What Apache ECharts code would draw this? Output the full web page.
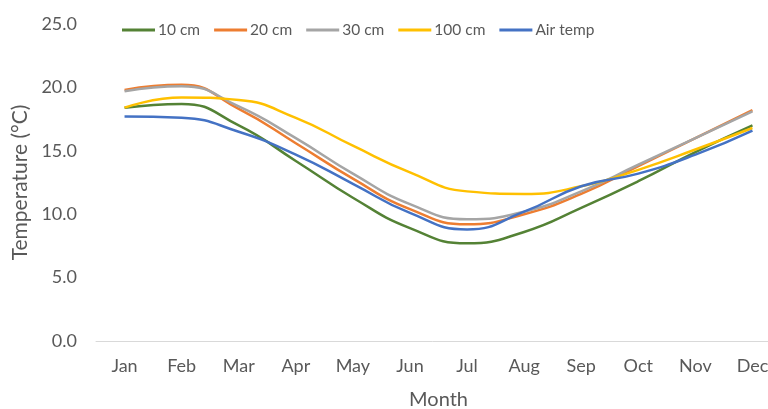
<!DOCTYPE html>
<html>
<head>
<meta charset="utf-8">
<script src="https://cdn.jsdelivr.net/npm/echarts@6/dist/echarts.min.js"></script>
<style>
  html, body { margin: 0; padding: 0; background: #fff; }
  #chart { width: 768px; height: 409px; }
</style>
</head>
<body>
<div id="chart"></div>
<script>
let months = ['Jan', 'Feb', 'Mar', 'Apr', 'May', 'Jun', 'Jul', 'Aug', 'Sep', 'Oct', 'Nov', 'Dec'];
let seriesNames = ['10 cm', '20 cm', '30 cm', '100 cm', 'Air temp'];
let depth10 = [18.4, 18.7, 17.0, 14.2, 11.3, 8.9, 7.7, 8.6, 10.5, 12.6, 14.9, 17.0];
let depth20 = [19.8, 20.2, 18.3, 15.6, 12.8, 10.4, 9.2, 10.0, 11.6, 13.8, 16.0, 18.2];
let depth30 = [19.7, 20.1, 18.5, 16.0, 13.2, 10.8, 9.6, 10.2, 11.8, 13.9, 16.0, 18.1];
let depth100 = [18.4, 19.2, 19.0, 17.6, 15.4, 13.3, 11.8, 11.6, 12.2, 13.5, 15.1, 16.8];
let airTemp = [17.7, 17.6, 16.5, 14.7, 12.4, 10.1, 8.8, 10.2, 12.2, 13.2, 14.7, 16.6];

let colors = ['#548235', '#ED7D31', '#A5A5A5', '#FFC000', '#4472C4'];
let values = [depth10, depth20, depth30, depth100, airTemp];
let font = 'Lato';

let chart = echarts.init(document.getElementById('chart'));
let option = {
    animation: false,
    color: colors,
    textStyle: { fontFamily: font },
    legend: {
        left: 117,
        top: 17,
        itemWidth: 33,
        itemHeight: 3,
        itemGap: 14,
        icon: 'rect',
        data: seriesNames,
        textStyle: { color: '#595959', fontSize: 15.5, fontFamily: font, padding: [0, 0, 0, -2] }
    },
    grid: { left: 96, top: 24, width: 685, height: 317, containLabel: false, outerBoundsMode: 'none' },
    xAxis: {
        type: 'category',
        data: months,
        boundaryGap: true,
        name: 'Month',
        nameLocation: 'middle',
        nameGap: 49,
        nameTextStyle: { color: '#595959', fontSize: 20, fontFamily: font },
        axisLine: { lineStyle: { color: '#D9D9D9', width: 1 } },
        axisTick: { show: false },
        axisLabel: { color: '#595959', fontSize: 18, margin: 16, fontFamily: font }
    },
    yAxis: {
        type: 'value',
        min: 0,
        max: 25,
        interval: 5,
        name: 'Temperature (°C)',
        nameLocation: 'middle',
        nameGap: 58,
        nameTextStyle: { color: '#595959', fontSize: 21, fontFamily: font },
        axisLine: { show: false },
        axisTick: { show: false },
        splitLine: { show: false },
        axisLabel: {
            color: '#595959',
            fontSize: 18,
            margin: 19,
            fontFamily: font,
            formatter: function (v) { return v.toFixed(1); }
        }
    },
    series: seriesNames.map(function (name, i) {
        return {
            name: name,
            type: 'line',
            data: values[i],
            smooth: 0.5,
            showSymbol: false,
            symbol: 'none',
            lineStyle: { width: 2.5, color: colors[i] }
        };
    })
};
chart.setOption(option);
</script>
</body>
</html>
